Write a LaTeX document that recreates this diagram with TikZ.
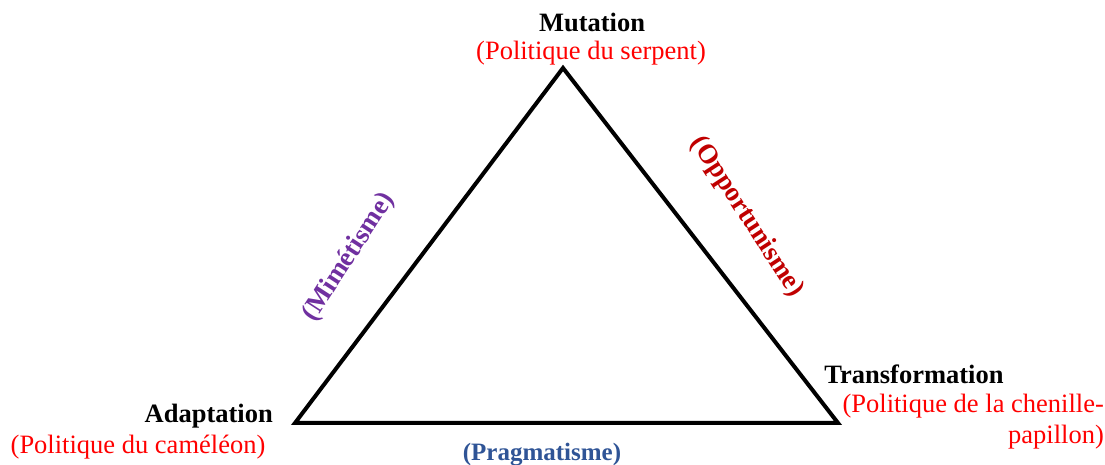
\documentclass[tikz,border=0pt]{standalone}
\usepackage{fontspec}
\setmainfont{Liberation Serif}
\definecolor{tred}{RGB}{255,0,0}
\definecolor{tpurple}{RGB}{112,48,160}
\definecolor{tdarkred}{RGB}{192,0,0}
\definecolor{tblue}{RGB}{47,84,150}
\begin{document}
\begin{tikzpicture}[x=1pt,y=1pt,
  title/.style={font=\fontsize{26.5}{30}\selectfont\bfseries, text=black, inner sep=0pt},
  sub/.style={font=\fontsize{26.5}{30}\selectfont, text=tred, inner sep=0pt},
  edgelab/.style={font=\fontsize{27}{30}\selectfont\bfseries, inner sep=0pt}]
\useasboundingbox (0,0) rectangle (1105,465);
\coordinate (top) at (563,397);
\coordinate (bl) at (295,42);
\coordinate (br) at (838,42);
\draw[line width=4pt, line join=miter] (top) -- (bl) -- (br) -- cycle;
\node[title] (mut) at (592,443) {Mutation};
\node[sub] (mutsub) at (591,412) {(Politique du serpent)};
\node[title, anchor=east] (ada) at (273,49) {Adaptation};
\node[sub] (adasub) at (138,18) {(Politique du caméléon)};
\node[title] (tra) at (914,91) {Transformation};
\node[sub, anchor=east] (trasub1) at (1104,59) {(Politique de la chenille-};
\node[sub, anchor=east] (trasub2) at (1104,28) {papillon)};
\node[edgelab, text=tpurple, rotate=57] (mim) at (349,208) {(Mimétisme)};
\node[edgelab, text=tdarkred, rotate=-57] (opp) at (747,248) {(Opportunisme)};
\node[edgelab, text=tblue, font=\fontsize{25}{28}\selectfont\bfseries] (pra) at (542,10) {(Pragmatisme)};
\end{tikzpicture}
\end{document}
